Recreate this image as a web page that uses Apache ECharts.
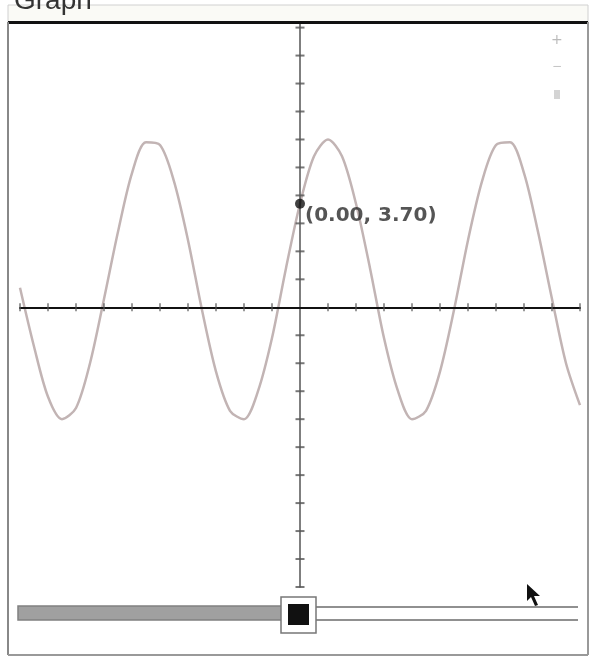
<!DOCTYPE html>
<html>
<head>
<meta charset="utf-8">
<script src="https://cdn.jsdelivr.net/npm/echarts@6/dist/echarts.min.js"></script>
<style>
  html, body { margin: 0; padding: 0; background: #fff; }
  #chart { width: 597px; height: 663px; }
</style>
</head>
<body>
<div id="chart"></div>
<script>
// curve samples
const xValues = [-10, -9.5, -9, -8.5, -8, -7.5, -7, -6.5, -6, -5.5, -5, -4.5, -4, -3.5, -3, -2.5, -2, -1.5, -1, -0.5,
  0, 0.5, 1, 1.5, 2, 2.5, 3, 3.5, 4, 4.5, 5, 5.5, 6, 6.5, 7, 7.5, 8, 8.5, 9, 9.5, 10]
const yValues = [0.7, -1.4, -3.2, -4.0, -3.6, -2.0, 0.3, 2.7, 4.8, 5.9, 5.8, 4.5, 2.4, -0.1, -2.3, -3.7, -4.0, -3.0, -1.1, 1.4,
  3.7, 5.4, 6.0, 5.4, 3.7, 1.4, -1.1, -3.0, -4.0, -3.7, -2.3, -0.1, 2.4, 4.5, 5.8, 5.9, 4.8, 2.7, 0.3, -2.0, -3.5]

const tracePoint = [0, 3.7]
const xTicks = [-10, -9, -8, -7, -6, -5, -4, -3, -2, -1, 1, 2, 3, 4, 5, 6, 7, 8, 9, 10]
const yTicks = [-10, -9, -8, -7, -6, -5, -4, -3, -2, -1, 1, 2, 3, 4, 5, 6, 7, 8, 9, 10]

const chart = echarts.init(document.getElementById('chart'))

const option = {
  animation: false,
  backgroundColor: '#fff',
  grid: { left: 20, right: 17, top: 22, bottom: 76 },
  xAxis: {
    type: 'value',
    min: -10,
    max: 10,
    z: 5,
    axisLine: { onZero: true, lineStyle: { color: '#111', width: 2 } },
    axisTick: { show: false },
    axisLabel: { show: false },
    splitLine: { show: false }
  },
  yAxis: {
    type: 'value',
    min: -10,
    max: 10.2,
    z: 5,
    axisLine: { onZero: true, lineStyle: { color: '#555', width: 1.5 } },
    axisTick: { show: false },
    axisLabel: { show: false },
    splitLine: { show: false }
  },
  series: [
    {
      type: 'line',
      data: xValues.map((x, i) => [x, yValues[i]]),
      smooth: 0.3,
      symbol: 'none',
      lineStyle: { color: '#c2b4b4', width: 2.5 },
      z: 2
    },
    {
      type: 'scatter',
      data: xTicks.map(x => [x, 0]),
      symbol: 'rect',
      symbolSize: [1.5, 8],
      itemStyle: { color: '#555' },
      silent: true,
      z: 6
    },
    {
      type: 'scatter',
      data: yTicks.map(y => [0, y]),
      symbol: 'rect',
      symbolSize: [9, 2],
      itemStyle: { color: '#555' },
      silent: true,
      z: 6
    },
    {
      type: 'scatter',
      data: [tracePoint],
      symbol: 'circle',
      symbolSize: 10,
      itemStyle: { color: '#111' },
      label: {
        show: true,
        position: 'right',
        distance: 0,
        offset: [0, 12],
        formatter: p => '(' + p.value[0].toFixed(2) + ', ' + p.value[1].toFixed(2) + ')',
        fontFamily: 'DejaVu Sans',
        fontSize: 20,
        fontWeight: 'bold',
        color: '#2b2b2b'
      },
      z: 8
    }
  ],
  graphic: [
    // header strip and title
    { type: 'rect', shape: { x: 8, y: 5, width: 580, height: 17 }, style: { fill: '#fafaf6', stroke: '#d0d0d0', lineWidth: 1 }, z: 0 },
    { type: 'text', left: 14, top: -13, style: { text: 'Graph', fontFamily: 'Liberation Sans', fontSize: 28, fill: '#333' }, z: 1 },
    // frame
    { type: 'rect', shape: { x: 8, y: 21, width: 580, height: 3 }, style: { fill: '#111' }, z: 10 },
    { type: 'line', shape: { x1: 8, y1: 22, x2: 8, y2: 655 }, style: { stroke: '#888', lineWidth: 2 }, z: 10 },
    { type: 'line', shape: { x1: 588, y1: 22, x2: 588, y2: 655 }, style: { stroke: '#999', lineWidth: 2 }, z: 10 },
    { type: 'line', shape: { x1: 8, y1: 655, x2: 588, y2: 655 }, style: { stroke: '#999', lineWidth: 2 }, z: 10 },
    // zoom controls
    { type: 'text', left: 551, top: 33, style: { text: '+', fontSize: 14, fill: '#bbb', fontFamily: 'DejaVu Sans' } },
    { type: 'text', left: 552, top: 61, style: { text: '−', fontSize: 12, fill: '#c4c4c4', fontFamily: 'DejaVu Sans' } },
    { type: 'rect', shape: { x: 554, y: 90, width: 6, height: 9 }, style: { fill: '#d4d4d4' } },
    // slider
    { type: 'rect', shape: { x: 18, y: 606, width: 265, height: 14 }, style: { fill: '#a0a0a0', stroke: '#808080', lineWidth: 1.5 }, z: 10 },
    { type: 'line', shape: { x1: 314, y1: 607, x2: 578, y2: 607 }, style: { stroke: '#909090', lineWidth: 2 }, z: 10 },
    { type: 'line', shape: { x1: 314, y1: 620, x2: 578, y2: 620 }, style: { stroke: '#909090', lineWidth: 2 }, z: 10 },
    { type: 'rect', shape: { x: 281, y: 597, width: 35, height: 36 }, style: { fill: '#fff', stroke: '#777', lineWidth: 1.5 }, z: 11 },
    { type: 'rect', shape: { x: 288, y: 604, width: 21, height: 21 }, style: { fill: '#111' }, z: 12 },
    // mouse pointer
    {
      type: 'polygon',
      shape: { points: [[527, 584], [527, 601], [531, 597], [535, 606], [538, 605], [534, 596], [540, 596]] },
      style: { fill: '#111' },
      z: 12
    }
  ]
}

chart.setOption(option)
</script>
</body>
</html>
